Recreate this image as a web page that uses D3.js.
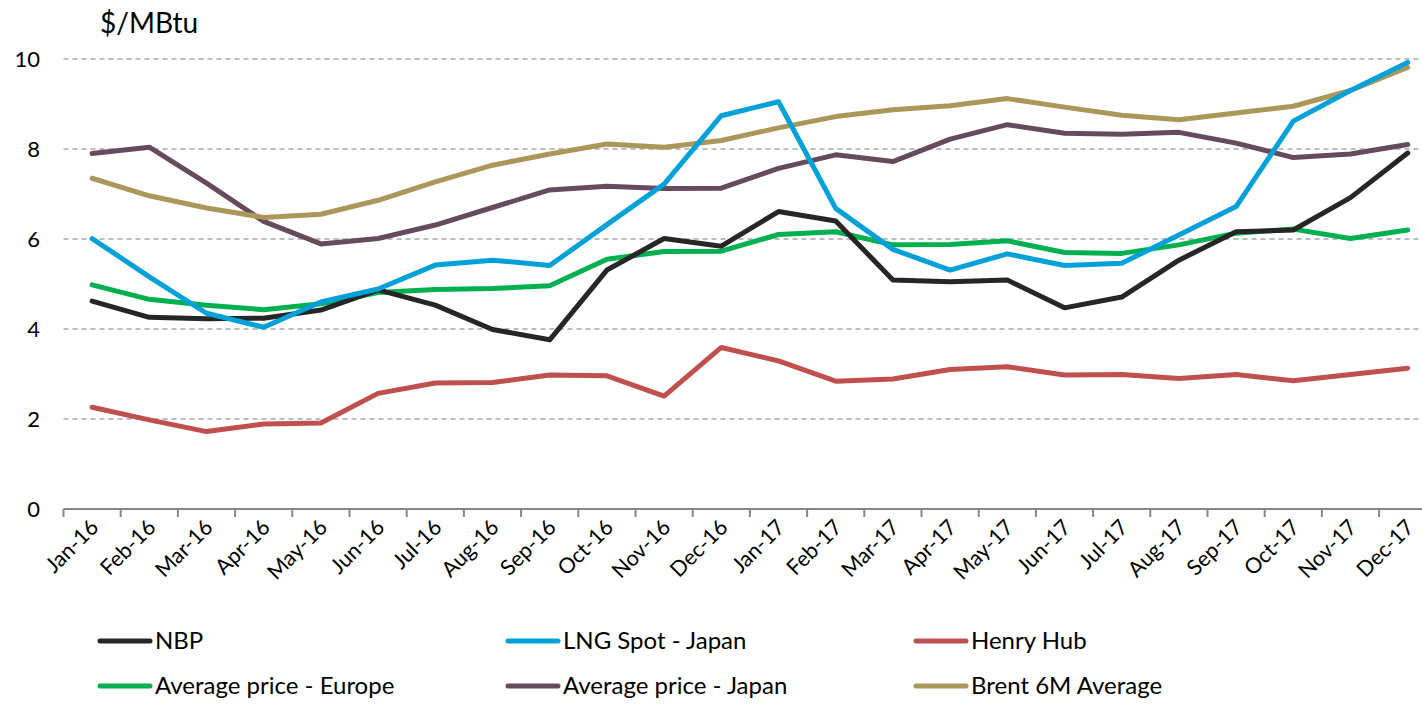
<!DOCTYPE html>
<html>
<head>
<meta charset="utf-8">
<script src="https://cdn.jsdelivr.net/npm/d3@7"></script>
<style>
  body { margin: 0; background: #fff; }
  svg { display: block; font-family: Lato, "Open Sans", "Liberation Sans", sans-serif; }
</style>
</head>
<body>
<svg id="chart" width="1422" height="704"></svg>
<script>
// Monthly gas prices, $/MBtu
const months = ['Jan-16', 'Feb-16', 'Mar-16', 'Apr-16', 'May-16', 'Jun-16', 'Jul-16', 'Aug-16',
    'Sep-16', 'Oct-16', 'Nov-16', 'Dec-16', 'Jan-17', 'Feb-17', 'Mar-17', 'Apr-17', 'May-17',
    'Jun-17', 'Jul-17', 'Aug-17', 'Sep-17', 'Oct-17', 'Nov-17', 'Dec-17'];

const nbp = [4.62, 4.26, 4.23, 4.24, 4.42, 4.87, 4.53, 3.99, 3.76, 5.31, 6.01, 5.84,
    6.61, 6.40, 5.09, 5.05, 5.09, 4.47, 4.71, 5.53, 6.16, 6.20, 6.92, 7.91];
const lngJapan = [6.01, 5.16, 4.35, 4.04, 4.60, 4.89, 5.42, 5.53, 5.41, 6.32, 7.22, 8.74,
    9.05, 6.68, 5.77, 5.31, 5.67, 5.41, 5.46, 6.09, 6.72, 8.62, 9.30, 9.92];
const henryHub = [2.26, 1.98, 1.72, 1.89, 1.91, 2.57, 2.80, 2.81, 2.98, 2.96, 2.51, 3.59,
    3.29, 2.84, 2.89, 3.10, 3.16, 2.98, 2.99, 2.90, 2.99, 2.85, 2.99, 3.13];
const avgEurope = [4.98, 4.66, 4.53, 4.43, 4.56, 4.81, 4.88, 4.90, 4.96, 5.55, 5.72, 5.73,
    6.10, 6.16, 5.87, 5.88, 5.96, 5.70, 5.68, 5.87, 6.13, 6.22, 6.01, 6.20];
const avgJapan = [7.90, 8.04, 7.24, 6.39, 5.89, 6.01, 6.31, 6.70, 7.09, 7.17, 7.12, 7.13,
    7.57, 7.87, 7.72, 8.22, 8.54, 8.35, 8.33, 8.37, 8.13, 7.81, 7.89, 8.10];
const brent6m = [7.35, 6.96, 6.69, 6.48, 6.55, 6.86, 7.27, 7.64, 7.89, 8.11, 8.04, 8.19,
    8.47, 8.72, 8.87, 8.96, 9.12, 8.93, 8.75, 8.65, 8.80, 8.95, 9.30, 9.81];

const yTicks = [0, 2, 4, 6, 8, 10];

const series = [
    { name: 'NBP', values: nbp, color: '#262626' },
    { name: 'LNG Spot - Japan', values: lngJapan, color: '#00a0d8' },
    { name: 'Henry Hub', values: henryHub, color: '#c0504d' },
    { name: 'Average price - Europe', values: avgEurope, color: '#00b050' },
    { name: 'Average price - Japan', values: avgJapan, color: '#664b5e' },
    { name: 'Brent 6M Average', values: brent6m, color: '#ab9759' },
];
// draw order (back to front)
const drawOrder = [2, 4, 5, 3, 0, 1];

const svg = d3.select('#chart');

const x = d3.scaleBand()
    .domain(months)
    .range([63.5, 63.5 + 57.2 * months.length]);

const y = d3.scaleLinear()
    .domain([0, 10])
    .range([509, 59]);

// Gridlines
svg.append('g')
    .selectAll('line')
    .data(yTicks.filter(d => d > 0))
    .join('line')
    .attr('x1', 63.5)
    .attr('x2', 1422)
    .attr('y1', d => y(d))
    .attr('y2', d => y(d))
    .attr('stroke', '#a6a6a6')
    .attr('stroke-width', 1.3)
    .attr('stroke-dasharray', '5,4');

// Y labels
svg.append('g')
    .selectAll('text')
    .data(yTicks)
    .join('text')
    .attr('x', 40)
    .attr('y', d => y(d))
    .attr('dy', '0.35em')
    .attr('text-anchor', 'end')
    .attr('font-size', 22)
    .attr('fill', '#000')
    .text(d => d);

svg.append('text')
    .attr('x', 100)
    .attr('y', 33)
    .attr('font-size', 28)
    .attr('fill', '#000')
    .text('$/MBtu');

// X axis
const xAxis = svg.append('g')
    .attr('transform', `translate(0,${y(0)})`);
xAxis.append('line')
    .attr('x1', 63.5)
    .attr('x2', 1422)
    .attr('stroke', '#868686')
    .attr('stroke-width', 2);
xAxis.selectAll('.tick')
    .data(months)
    .join('line')
    .attr('class', 'tick')
    .attr('x1', d => x(d))
    .attr('x2', d => x(d))
    .attr('y1', 0)
    .attr('y2', 8)
    .attr('stroke', '#868686')
    .attr('stroke-width', 2);
xAxis.selectAll('text')
    .data(months)
    .join('text')
    .attr('transform', d => `translate(${x(d) + x.bandwidth() / 2 - 3},9) rotate(-45)`)
    .attr('text-anchor', 'end')
    .attr('dy', '0.7em')
    .attr('font-size', 21.5)
    .attr('fill', '#000')
    .text(d => d);

// Lines
const line = d3.line()
    .x((d, i) => x(months[i]) + x.bandwidth() / 2)
    .y(d => y(d));

svg.append('g')
    .selectAll('path')
    .data(drawOrder.map(i => series[i]))
    .join('path')
    .attr('d', d => line(d.values))
    .attr('fill', 'none')
    .attr('stroke', d => d.color)
    .attr('stroke-width', 5)
    .attr('stroke-linejoin', 'round')
    .attr('stroke-linecap', 'round');

// Legend
const legend = svg.append('g');
const items = legend.selectAll('g')
    .data(series)
    .join('g')
    .attr('transform', (d, i) => `translate(${100 + (i % 3) * 408},${641 + Math.floor(i / 3) * 45})`);
items.append('line')
    .attr('x1', 0)
    .attr('x2', 50)
    .attr('stroke', d => d.color)
    .attr('stroke-width', 5)
    .attr('stroke-linecap', 'round');
items.append('text')
    .attr('x', 55)
    .attr('dy', '0.35em')
    .attr('font-size', 24)
    .attr('fill', '#000')
    .text(d => d.name);
</script>
</body>
</html>
